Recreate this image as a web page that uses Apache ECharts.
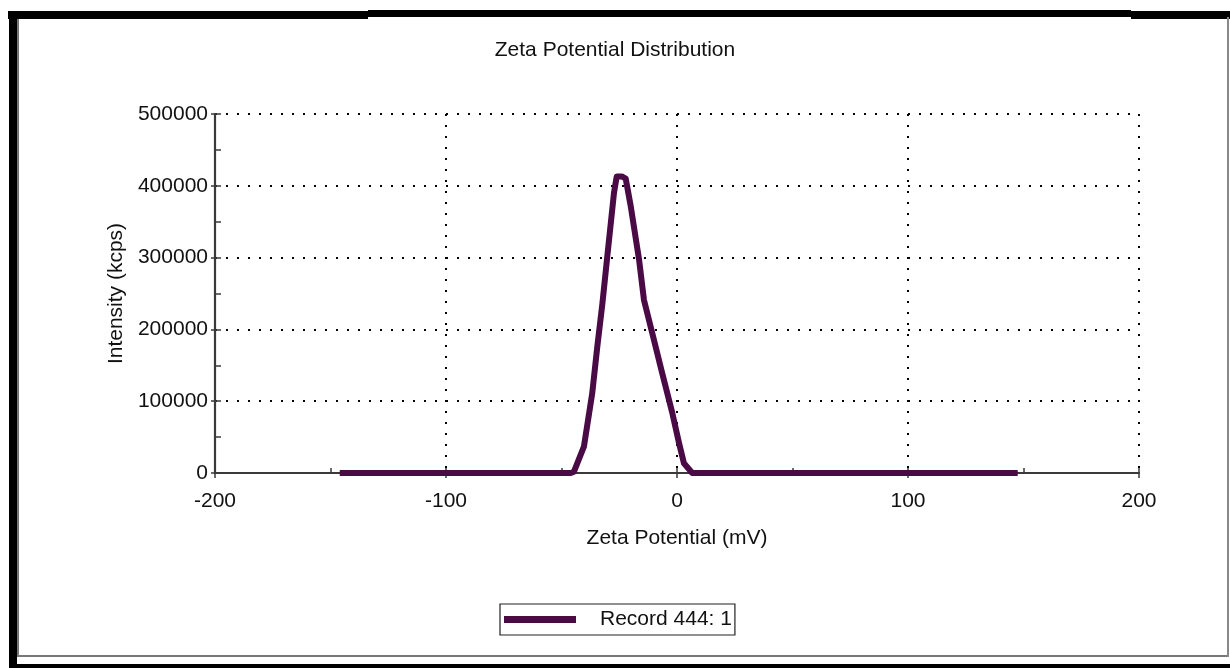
<!DOCTYPE html>
<html>
<head>
<meta charset="utf-8">
<script src="https://cdn.jsdelivr.net/npm/echarts@6/dist/echarts.min.js"></script>
<style>
html,body{margin:0;padding:0;background:#fff;}
#c{width:1230px;height:668px;}
</style>
</head>
<body>
<div id="c"></div>
<script>
// Data
var zetaPotential = [-146, -46, -44.6, -40.3, -36.7, -34.5, -32.3, -30.2, -27.3, -26.1, -23.9, -22.2, -20, -16.4, -14.3, -10.7, -6.4, -2.0, 0.9, 3.0, 6.6, 147.5];
var intensity     = [0, 0, 1800, 36600, 111000, 176000, 236000, 301000, 389500, 413000, 413000, 410000, 371000, 296600, 241000, 194600, 138900, 83100, 41400, 13500, 0, 0];
var xTicks = [-200, -100, 0, 100, 200];
var yTicks = [0, 100000, 200000, 300000, 400000, 500000];
var seriesName = 'Record 444: 1';

var pts = zetaPotential.map(function (x, i) { return [x, intensity[i]]; });
var font = 'Liberation Sans, Arial, sans-serif';
var txt = '#111';
var axisCol = '#3a3a3a';

var chart = echarts.init(document.getElementById('c'), null, {renderer: 'canvas'});
chart.setOption({
  animation: false,
  backgroundColor: '#fff',
  title: {
    text: 'Zeta Potential Distribution',
    left: 'center', top: 35,
    textStyle: {fontFamily: font, fontSize: 21, fontWeight: 'normal', color: txt}
  },
  grid: {left: 215, right: 91, top: 114, bottom: 195},
  legend: {
    left: 500, top: 604,
    data: [seriesName],
    orient: 'horizontal',
    borderColor: '#222', borderWidth: 1.2,
    padding: [5, 3, 5, 4],
    itemWidth: 72, itemHeight: 7,
    icon: 'rect',
    textStyle: {fontFamily: font, fontSize: 21, color: txt, padding: [0, 0, 0, 19]}
  },
  xAxis: [{
    type: 'value', min: xTicks[0], max: xTicks[xTicks.length - 1], interval: 100,
    name: 'Zeta Potential (mV)', nameLocation: 'middle', nameGap: 55,
    nameTextStyle: {fontFamily: font, fontSize: 21, color: txt},
    z: 1,
    axisLine: {show: false, onZero: false},
    axisTick: {show: true, inside: false, length: 5, lineStyle: {color: axisCol, width: 1.5}},
    axisLabel: {fontFamily: font, fontSize: 21, color: txt, margin: 18},
    splitLine: {show: true, lineStyle: {color: '#000', width: 2, type: [2, 9]}}
  }, {
    type: 'value', min: xTicks[0], max: xTicks[xTicks.length - 1], interval: 50,
    position: 'bottom', offset: 0,
    z: 10,
    axisLine: {show: true, onZero: false, lineStyle: {color: axisCol, width: 2.2}},
    axisTick: {show: true, inside: true, length: 5, lineStyle: {color: axisCol, width: 1.5}},
    axisLabel: {show: false},
    splitLine: {show: false}
  }],
  yAxis: [{
    type: 'value', min: yTicks[0], max: yTicks[yTicks.length - 1], interval: 100000,
    position: 'left',
    name: 'Intensity (kcps)', nameLocation: 'middle', nameGap: 84,
    nameTextStyle: {fontFamily: font, fontSize: 21, color: txt},
    z: 1,
    axisLine: {show: false, onZero: false},
    axisTick: {show: true, inside: false, length: 4, lineStyle: {color: axisCol, width: 1.5}},
    axisLabel: {fontFamily: font, fontSize: 21, color: txt, margin: 7,
      formatter: function (v) { return String(v); }},
    splitLine: {show: true, lineStyle: {color: '#000', width: 2, type: [2, 9]}}
  }, {
    type: 'value', min: yTicks[0], max: yTicks[yTicks.length - 1], interval: 50000,
    position: 'left', offset: 0,
    z: 10,
    axisLine: {show: true, onZero: false, lineStyle: {color: axisCol, width: 2.2}},
    axisTick: {show: true, inside: true, length: 6, lineStyle: {color: axisCol, width: 1.5}},
    axisLabel: {show: false},
    splitLine: {show: false}
  }],
  series: [{
    name: seriesName,
    type: 'line',
    xAxisIndex: 0, yAxisIndex: 0,
    data: pts,
    symbol: 'none',
    smooth: false,
    color: '#4a0a45',
    lineStyle: {color: '#4a0a45', width: 6, join: 'round'},
    z: 12
  }],
  graphic: [
    {type: 'rect', shape: {x: 8, y: 11, width: 360, height: 8}, style: {fill: '#000'}, silent: true},
    {type: 'rect', shape: {x: 368, y: 10, width: 763, height: 7}, style: {fill: '#000'}, silent: true},
    {type: 'rect', shape: {x: 1131, y: 11, width: 99, height: 8}, style: {fill: '#000'}, silent: true},
    {type: 'rect', shape: {x: 9, y: 11, width: 8, height: 657}, style: {fill: '#000'}, silent: true},
    {type: 'rect', shape: {x: 9, y: 664, width: 1221, height: 4}, style: {fill: '#000'}, silent: true},
    {type: 'rect', shape: {x: 17, y: 19, width: 2, height: 638}, style: {fill: '#777'}, silent: true},
    {type: 'rect', shape: {x: 17, y: 655, width: 1212, height: 2}, style: {fill: '#777'}, silent: true},
    {type: 'rect', shape: {x: 1227, y: 17, width: 2, height: 640}, style: {fill: '#888'}, silent: true}
  ]
});
</script>
</body>
</html>
